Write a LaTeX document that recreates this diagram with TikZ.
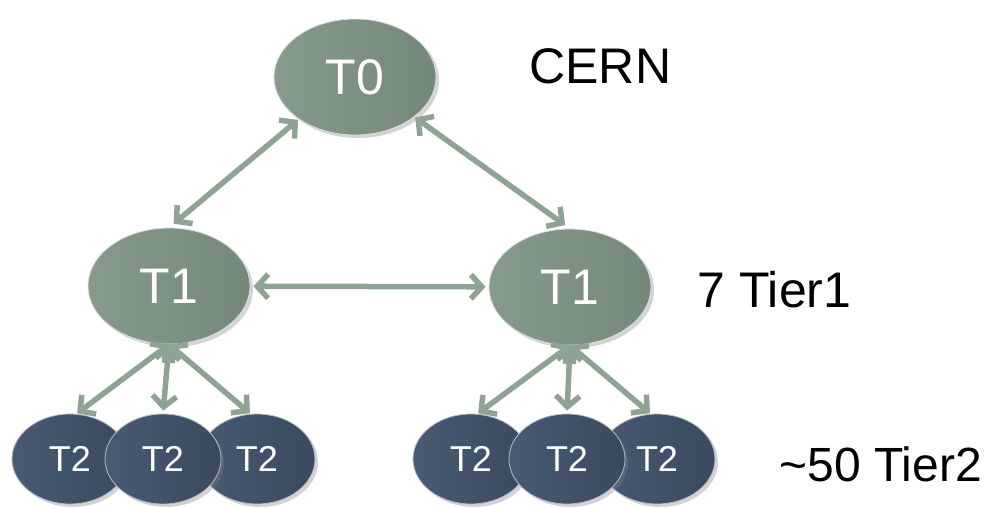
\documentclass[tikz,border=0pt]{standalone}
\usepackage{fontspec}
\setmainfont{Liberation Sans}
\usetikzlibrary{shapes.geometric,arrows.meta,shadows}
\definecolor{tone}{HTML}{869B8B}
\definecolor{ttwo}{HTML}{74887A}
\definecolor{bone}{HTML}{485B73}
\definecolor{btwo}{HTML}{3A4A5E}
\definecolor{arrowc}{HTML}{8FA394}
\tikzset{
  tier/.style={ellipse, draw=white!70!tone, line width=0.8pt, left color=tone, right color=ttwo,
    drop shadow={shadow xshift=3pt, shadow yshift=-3pt, opacity=0.35},
    text=white, font=\fontsize{50}{60}\selectfont, inner sep=0pt},
  big/.style={tier, minimum width=162pt, minimum height=116pt},
  small/.style={tier, left color=bone, right color=btwo, draw=white!60!bone,
    minimum width=116pt, minimum height=90pt, font=\fontsize{36}{43}\selectfont},
  link/.style={draw=arrowc, line width=5.5pt, {Straight Barb[length=11pt,width=24pt]}-{Straight Barb[length=11pt,width=24pt]}, shorten <=3pt, shorten >=3pt},
  lbl/.style={font=\fontsize{50}{60}\selectfont, text=black, anchor=west}
}
\begin{document}
\begin{tikzpicture}[x=1pt,y=-1pt]
\useasboundingbox (0,0) rectangle (988,507);
\node[big] (t0) at (355,77) {T0};
\node[big] (t1a) at (169,286) {T1};
\node[big] (t1b) at (570,287) {T1};
\node[small] (a1) at (70,459) {T2};
\node[small] (a3) at (257,459) {T2};
\node[small] (a2) at (163,459) {T2};
\node[small] (b1) at (471,459) {T2};
\node[small] (b3) at (657,459) {T2};
\node[small] (b2) at (567,459) {T2};
\node[lbl] (cern) at (526,66) {CERN};
\node[lbl] (tier1) at (694,290) {7 Tier1};
\node[lbl, font=\fontsize{48}{58}\selectfont] (tier2) at (776,464) {\textasciitilde50 Tier2};
\draw[link, shorten <=1pt, shorten >=6pt] (t0.217) -- (t1a.north);
\draw[link, shorten <=1pt, shorten >=6pt] (t0.326) -- (t1b.north);
\draw[link] (t1a) -- (t1b);
\draw[link, shorten <=0pt, shorten >=1pt] (t1a.south) -- (a1.82);
\draw[link, shorten <=0pt] (t1a.south) -- (a2.north);
\draw[link, shorten <=0pt, shorten >=1pt] (t1a.south) -- (a3.98);
\draw[link, shorten <=0pt, shorten >=1pt] (t1b.south) -- (b1.82);
\draw[link, shorten <=0pt] (t1b.south) -- (b2.north);
\draw[link, shorten <=0pt, shorten >=1pt] (t1b.south) -- (b3.98);
\end{tikzpicture}
\end{document}
